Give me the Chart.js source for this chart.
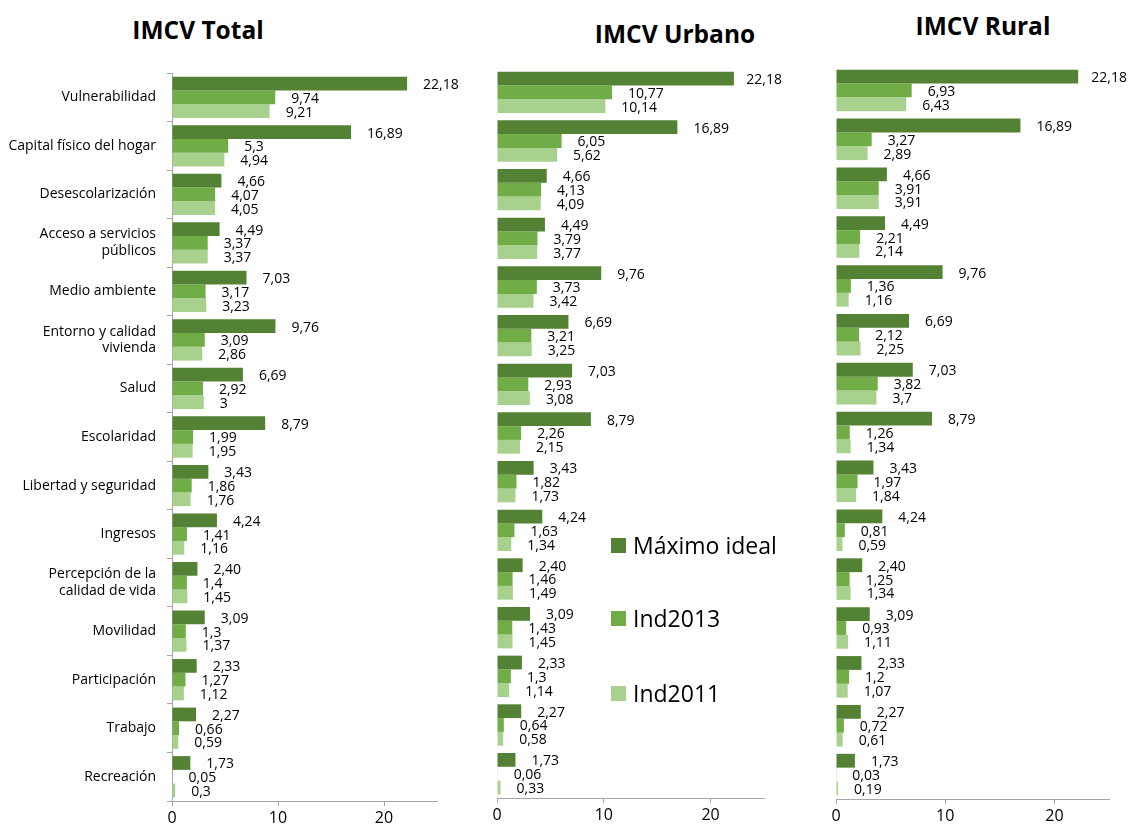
<!DOCTYPE html>
<html>
<head>
<meta charset="utf-8">
<script src="https://cdn.jsdelivr.net/npm/chart.js@4.4.1/dist/chart.umd.min.js"></script>
<style>
body { margin: 0; background: #fff; width: 1128px; height: 832px; overflow: hidden; font-family: "Open Sans", sans-serif; }
.box { position: absolute; top: 0; height: 832px; }
.title { position: absolute; font-weight: bold; font-size: 24.5px; color: #000; transform: translate(-50%, -50%); white-space: nowrap; }
#legend { position: absolute; left: 611px; top: 0; }
.leg { position: absolute; left: 0; white-space: nowrap; font-size: 23px; color: #000; }
.leg span { display: inline-block; width: 15px; height: 15px; margin-right: 7px; vertical-align: middle; position: relative; top: -2px; }
</style>
</head>
<body>
<div class="title" style="left:198px; top:29px;">IMCV Total</div>
<div class="title" style="left:675px; top:33px;">IMCV Urbano</div>
<div class="title" style="left:983px; top:25px;">IMCV Rural</div>
<div class="box" style="left:0; width:470px;"><canvas id="cTotal"></canvas></div>
<div class="box" style="left:480px; width:310px;"><canvas id="cUrbano"></canvas></div>
<div class="box" style="left:820px; width:308px;"><canvas id="cRural"></canvas></div>
<div id="legend"></div>
<script>
var categories = ['Vulnerabilidad', 'Capital físico del hogar', 'Desescolarización', ['Acceso a servicios', 'públicos'],
    'Medio ambiente', ['Entorno y calidad', 'vivienda'], 'Salud', 'Escolaridad', 'Libertad y seguridad', 'Ingresos',
    ['Percepción de la', 'calidad de vida'], 'Movilidad', 'Participación', 'Trabajo', 'Recreación'];
var seriesNames = ['Máximo ideal', 'Ind2013', 'Ind2011'];
var seriesColors = ['#548235', '#70AD47', '#A9D18E'];
var xTicks = [0, 10, 20];

var maxTotal = [22.18, 16.89, 4.66, 4.49, 7.03, 9.76, 6.69, 8.79, 3.43, 4.24, 2.40, 3.09, 2.33, 2.27, 1.73];
var ind2013Total = [9.74, 5.3, 4.07, 3.37, 3.17, 3.09, 2.92, 1.99, 1.86, 1.41, 1.4, 1.3, 1.27, 0.66, 0.05];
var ind2011Total = [9.21, 4.94, 4.05, 3.37, 3.23, 2.86, 3, 1.95, 1.76, 1.16, 1.45, 1.37, 1.12, 0.59, 0.3];

var maxUrbano = [22.18, 16.89, 4.66, 4.49, 9.76, 6.69, 7.03, 8.79, 3.43, 4.24, 2.40, 3.09, 2.33, 2.27, 1.73];
var ind2013Urbano = [10.77, 6.05, 4.13, 3.79, 3.73, 3.21, 2.93, 2.26, 1.82, 1.63, 1.46, 1.43, 1.3, 0.64, 0.06];
var ind2011Urbano = [10.14, 5.62, 4.09, 3.77, 3.42, 3.25, 3.08, 2.15, 1.73, 1.34, 1.49, 1.45, 1.14, 0.58, 0.33];

var maxRural = [22.18, 16.89, 4.66, 4.49, 9.76, 6.69, 7.03, 8.79, 3.43, 4.24, 2.40, 3.09, 2.33, 2.27, 1.73];
var ind2013Rural = [6.93, 3.27, 3.91, 2.21, 1.36, 2.12, 3.82, 1.26, 1.97, 0.81, 1.25, 0.93, 1.2, 0.72, 0.03];
var ind2011Rural = [6.43, 2.89, 3.91, 2.14, 1.16, 2.25, 3.7, 1.34, 1.84, 0.59, 1.34, 1.11, 1.07, 0.61, 0.19];

var axisGrey = '#a6a6a6';

function fmtVal(v, i) {
    var s = i === 0 ? v.toFixed(2) : String(v);
    return s.replace('.', ',');
}

// value labels to the right of each bar
var valueLabels = {
    id: 'valueLabels',
    afterDatasetsDraw: function(chart, args, opts) {
        var ctx = chart.ctx;
        ctx.save();
        ctx.font = '14px "Open Sans"';
        ctx.fillStyle = '#000';
        ctx.textAlign = 'left';
        ctx.textBaseline = 'middle';
        chart.data.datasets.forEach(function(ds, i) {
            chart.getDatasetMeta(i).data.forEach(function(bar, j) {
                var txt = fmtVal(ds.data[j], i);
                var w = ctx.measureText(txt).width;
                var x = bar.x + 16;
                if (x + w > opts.limit) x = opts.limit - w;
                ctx.fillText(txt, x, bar.y + 1.5);
            });
        });
        ctx.restore();
    }
};

function makeChart(id, data, geo) {
    var ctx = document.getElementById(id).getContext('2d');
    return new Chart(ctx, {
        type: 'bar',
        data: {
            labels: categories,
            datasets: data.map(function(d, i) {
                return {
                    label: seriesNames[i],
                    data: d,
                    backgroundColor: seriesColors[i],
                    borderWidth: 0,
                    categoryPercentage: 0.85,
                    barPercentage: 1.0
                };
            })
        },
        options: {
            indexAxis: 'y',
            responsive: true,
            maintainAspectRatio: false,
            animation: false,
            layout: { padding: { top: geo.top, bottom: geo.bottom, left: geo.left, right: geo.right } },
            plugins: {
                legend: { display: false },
                tooltip: { enabled: false },
                valueLabels: { limit: geo.limit }
            },
            scales: {
                x: {
                    min: 0,
                    max: 25,
                    afterBuildTicks: function(s) { s.ticks = xTicks.map(function(v) { return { value: v }; }); },
                    ticks: { font: { family: 'Open Sans', size: 16 }, color: '#000', padding: 3 },
                    grid: { drawOnChartArea: false, tickLength: 5, color: axisGrey },
                    border: { color: axisGrey },
                    afterFit: function(s) { s.height = 26; }
                },
                y: {
                    display: geo.showLabels,
                    ticks: { font: { family: 'Open Sans', size: 14 }, color: '#000', padding: 11 },
                    grid: { drawOnChartArea: false, tickLength: 5, color: axisGrey, offset: true },
                    border: { color: axisGrey },
                    afterFit: function(s) { s.width = geo.axisW; }
                }
            }
        },
        plugins: [valueLabels]
    });
}

makeChart('cTotal', [maxTotal, ind2013Total, ind2011Total],
    { top: 73, bottom: 5, left: 0, right: 33, axisW: 172, showLabels: true, limit: 470 });
makeChart('cUrbano', [maxUrbano, ind2013Urbano, ind2011Urbano],
    { top: 68, bottom: 8, left: 17, right: 26, axisW: 0, showLabels: false, limit: 302 });
makeChart('cRural', [maxRural, ind2013Rural, ind2011Rural],
    { top: 66, bottom: 7, left: 16, right: 19, axisW: 0, showLabels: false, limit: 307 });

var legendTops = [545, 618, 693];
var lg = '';
for (var i = 0; i < seriesNames.length; i++) {
    lg += '<div class="leg" style="top:' + (legendTops[i] - 16) + 'px"><span style="background:' + seriesColors[i] + '"></span>' + seriesNames[i] + '</div>';
}
document.getElementById('legend').innerHTML = lg;
</script>
</body>
</html>
